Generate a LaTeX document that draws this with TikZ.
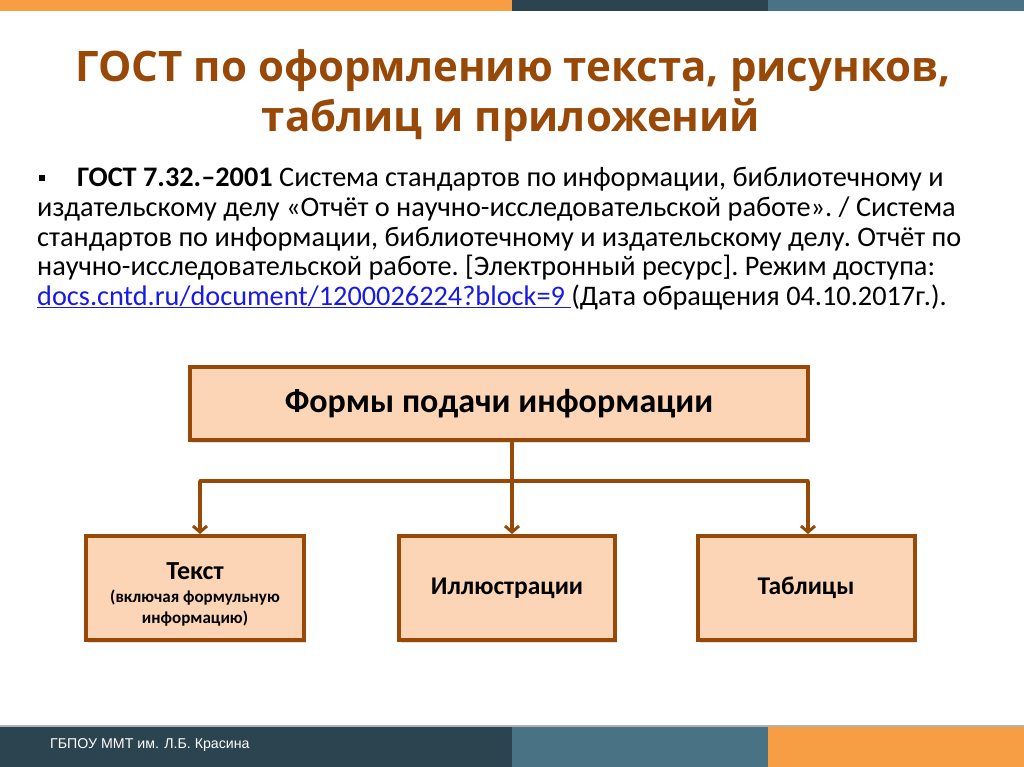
\documentclass[tikz,border=0pt]{standalone}
\usepackage{fontspec}
\setmainfont{Carlito}
\newfontfamily\titlefont{Open Sans}
\newfontfamily\footfont{Liberation Sans}
\usetikzlibrary{arrows.meta,shadows}
\definecolor{barorange}{HTML}{F79E44}
\definecolor{bardark}{HTML}{2C4350}
\definecolor{barblue}{HTML}{497285}
\definecolor{titlebrown}{HTML}{984807}
\definecolor{boxfill}{HTML}{FBD5B5}
\definecolor{boxline}{HTML}{984807}
\definecolor{linkblue}{HTML}{1A1AE6}
\tikzset{
  fbox/.style={draw=boxline, line width=4pt, fill=boxfill, inner sep=0pt,
    drop shadow={opacity=0.25, shadow xshift=2pt, shadow yshift=-3pt}},
  conn/.style={draw=boxline, line width=3.2pt},
  arr/.style={conn, -{Straight Barb[length=6pt,width=14pt,line width=3pt]}},
  bodyline/.style={anchor=base west, inner sep=0pt, font=\frenchspacing\fontsize{28.3}{30}\selectfont},
}
\begin{document}
\begin{tikzpicture}[x=1pt,y=-1pt]
\useasboundingbox (0,0) rectangle (1024,767);
\fill[white] (0,0) rectangle (1024,767);
% top bar
\fill[barorange] (0,0) rectangle (512,11);
\fill[bardark] (512,0) rectangle (768,11);
\fill[barblue] (768,0) rectangle (1024,11);
% bottom bar
\fill[gray!60] (0,725) rectangle (1024,727);
\fill[bardark] (0,727) rectangle (512,767);
\fill[barblue] (512,727) rectangle (768,767);
\fill[barorange] (768,727) rectangle (1024,767);
\node[anchor=west, inner sep=0pt, text=white, font=\footfont\fontsize{14.2}{16}\selectfont] (foot) at (50,745) {ГБПОУ ММТ им. Л.Б. Красина};
% title
\node[anchor=base, inner sep=0pt, text=titlebrown, font=\titlefont\bfseries\fontsize{42}{50}\selectfont] (t1) at (513,82) {ГОСТ по оформлению текста, рисунков,};
\node[anchor=base, inner sep=0pt, text=titlebrown, font=\titlefont\bfseries\fontsize{42}{50}\selectfont] (t2) at (511,132) {таблиц и приложений};
% bullet text
\node[fill=black, minimum size=6pt, inner sep=0pt] (bul) at (41.5,178) {};
\node[bodyline] (l1) at (77,187) {\textbf{ГОСТ 7.32.–2001} Система стандартов по информации, библиотечному и};
\node[bodyline] (l2) at (37,216.5) {издательскому делу «Отчёт о научно-исследовательской работе». / Система};
\node[bodyline] (l3) at (37,246) {стандартов по информации, библиотечному и издательскому делу. Отчёт по};
\node[bodyline] (l4) at (37,275.5) {научно-исследовательской работе. [Электронный ресурс]. Режим доступа:};
\node[bodyline] (l5) at (37,305) {\textcolor{linkblue}{\underline{docs.cntd.ru/document/1200026224?block=9 }}(Дата обращения 04.10.2017г.).};
% diagram
\node[fbox, minimum width=618pt, minimum height=73pt, font=\bfseries\fontsize{34}{38}\selectfont] (top) at (499,403.5) {Формы подачи информации};
\node[fbox, minimum width=218pt, minimum height=104pt] (txt) at (195,588) {};
\node[inner sep=0pt, anchor=base, font=\bfseries\fontsize{26}{28}\selectfont] (txt1) at (195,579) {Текст};
\node[inner sep=0pt, anchor=base, font=\bfseries\fontsize{17}{19}\selectfont] (txt2) at (195,602) {(включая формульную};
\node[inner sep=0pt, anchor=base, font=\bfseries\fontsize{17}{19}\selectfont] (txt3) at (195,623) {информацию)};
\node[fbox, minimum width=216pt, minimum height=104pt, font=\bfseries\fontsize{25.5}{28}\selectfont] (ill) at (507,588) {Иллюстрации};
\node[fbox, minimum width=217pt, minimum height=104pt, font=\bfseries\fontsize{25.5}{28}\selectfont] (tab) at (806,588) {Таблицы};
\coordinate (hub) at (512,481);
\coordinate (hl) at (200,481);
\coordinate (hr) at (808,481);
\draw[conn] (hub |- top.south) -- (hub);
\draw[conn, line cap=round] (hl) -- (hr);
\draw[arr] (hl) -- (hl |- txt.north);
\draw[arr] (hub) -- (hub |- ill.north);
\draw[arr] (hr) -- (hr |- tab.north);
\end{tikzpicture}
\end{document}
